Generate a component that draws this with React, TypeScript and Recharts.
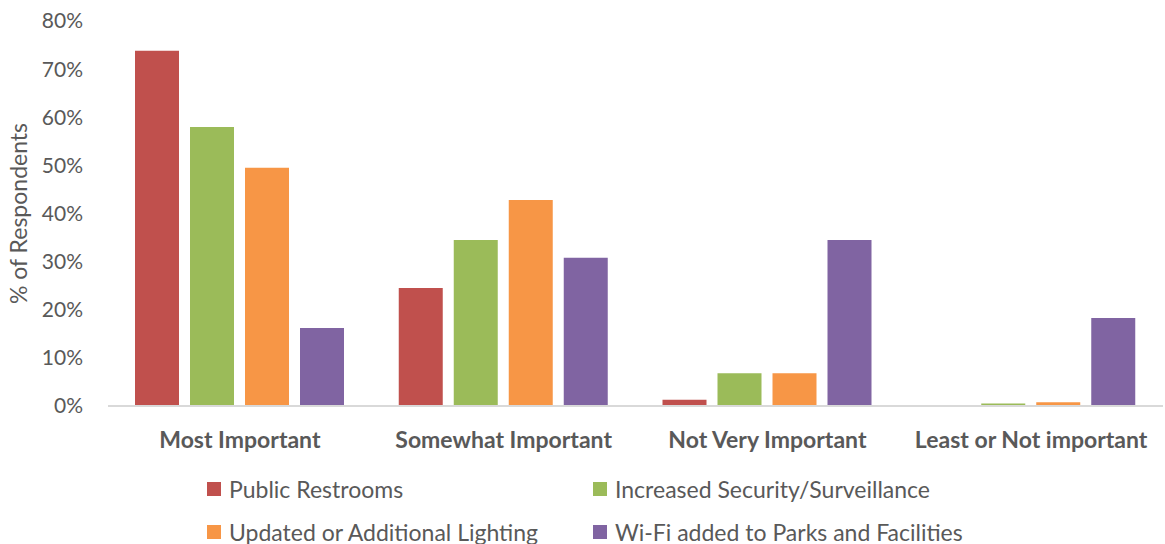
import React from 'react'
import { BarChart, Bar, XAxis, YAxis, Legend } from 'recharts'

const categories = ['Most Important', 'Somewhat Important', 'Not Very Important', 'Least or Not important']
const publicRestrooms = [73.8, 24.5, 1.3, 0]
const securitySurveillance = [58.0, 34.5, 6.8, 0.5]
const additionalLighting = [49.5, 42.8, 6.8, 0.8]
const wifiParks = [16.2, 30.8, 34.5, 18.3]
const yTicks = [0, 10, 20, 30, 40, 50, 60, 70, 80]

const series = [
  { key: 'restrooms', name: 'Public Restrooms', color: '#c0504d' },
  { key: 'security', name: 'Increased Security/Surveillance', color: '#9bbb59' },
  { key: 'lighting', name: 'Updated or Additional Lighting', color: '#f79646' },
  { key: 'wifi', name: 'Wi-Fi added to Parks and Facilities', color: '#8064a2' },
]

const data = categories.map((name, i) => ({
  name,
  restrooms: publicRestrooms[i],
  security: securitySurveillance[i],
  lighting: additionalLighting[i],
  wifi: wifiParks[i],
}))

const FONT = 'Lato, "Open Sans", sans-serif'
const TEXT = '#595959'

function LegendBox() {
  const cell = (s: typeof series[number]) => (
    <div key={s.key} style={{ display: 'flex', alignItems: 'center', height: 43 }}>
      <div style={{ width: 14, height: 14, background: s.color, marginRight: 8 }} />
      <span style={{ fontSize: 23, color: TEXT, fontFamily: FONT, whiteSpace: 'nowrap' }}>{s.name}</span>
    </div>
  )
  return (
    <div style={{ display: 'grid', gridTemplateColumns: '386px 420px', paddingLeft: 169, paddingTop: 21 }}>
      {series.map(cell)}
    </div>
  )
}

export default function App() {
  return (
    <div style={{ position: 'absolute', left: 0, top: 0, width: 1165, height: 544, background: '#fff', overflow: 'hidden' }}>
      <BarChart
        width={1165}
        height={544}
        data={data}
        margin={{ top: 21, right: 2, bottom: 0, left: 38 }}
        barCategoryGap={27}
        barGap={11}
      >
        <XAxis
          dataKey="name"
          axisLine={{ stroke: '#d9d9d9', strokeWidth: 2 }}
          tickLine={false}
          height={40}
          tickMargin={20}
          tick={{ fill: TEXT, fontSize: 23, fontWeight: 700, fontFamily: FONT }}
        />
        <YAxis
          domain={[0, 80]}
          ticks={yTicks}
          width={70}
          axisLine={false}
          tickLine={false}
          tickSize={0}
          tickMargin={25}
          tickFormatter={(v: number) => `${v}%`}
          tick={{ fill: TEXT, fontSize: 21, fontFamily: FONT }}
          label={{
            value: '% of Respondents',
            angle: -90,
            position: 'insideLeft',
            dx: -24,
            style: { fill: TEXT, fontSize: 23, fontFamily: FONT, textAnchor: 'middle' },
          }}
        />
        <Legend verticalAlign="bottom" height={98} content={() => <LegendBox />} />
        {series.map(s => (
          <Bar key={s.key} dataKey={s.key} name={s.name} fill={s.color} isAnimationActive={false} />
        ))}
      </BarChart>
    </div>
  )
}
